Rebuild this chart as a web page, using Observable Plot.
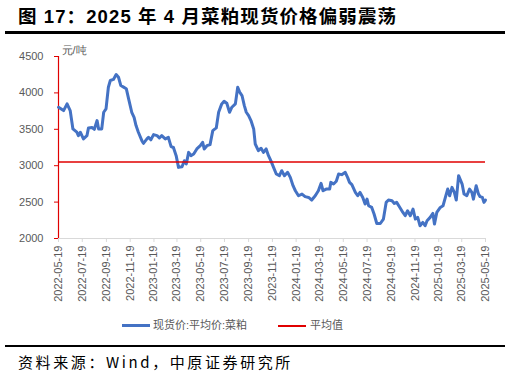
<!DOCTYPE html>
<html>
<head>
<meta charset="utf-8">
<script src="https://cdn.jsdelivr.net/npm/d3@7"></script>
<script src="https://cdn.jsdelivr.net/npm/@observablehq/plot@0.6"></script>
<style>
  html, body { margin: 0; padding: 0; background: #fff; }
  #wrap { position: relative; width: 511px; height: 378px; overflow: hidden; font-family: "Liberation Sans", Arial, "Noto Sans CJK SC", sans-serif; }
  #title { position: absolute; left: 18px; top: 2px; font-size: 18.5px; letter-spacing: 1.1px; font-weight: bold; color: #000; font-family: "Liberation Sans", Arial, "Noto Sans CJK SC", sans-serif; white-space: nowrap; }
  .rule { position: absolute; left: 5px; width: 500px; background: #000; }
  #chart { position: absolute; left: 0; top: 40px; }
  #legend { position: absolute; top: 317px; left: 0; width: 511px; font-size: 11px; color: #595959; white-space: nowrap; }
  .lg { position: absolute; top: 0; line-height: 16px; }
  .sw { position: absolute; }
  #caption { position: absolute; left: 18px; top: 351px; font-size: 15px; color: #000; white-space: nowrap; letter-spacing: 2.6px; font-family: "Noto Sans CJK SC", sans-serif; }
</style>
</head>
<body>
<div id="wrap">
  <div id="title">图 17：2025 年 4 月菜粕现货价格偏弱震荡</div>
  <div class="rule" style="top:31px;height:2.5px;"></div>
  <div id="chart"></div>
  <div id="legend">
    <div class="sw" style="left:122px;top:7px;width:28px;height:3px;background:#4472C4;"></div>
    <div class="lg" style="left:153px;">现货价:平均价:菜粕</div>
    <div class="sw" style="left:278px;top:8px;width:28px;height:1.5px;background:#e00000;"></div>
    <div class="lg" style="left:310px;">平均值</div>
  </div>
  <div class="rule" style="top:345px;height:2px;"></div>
  <div id="caption">资料来源：Wind，中原证券研究所</div>
</div>
<script>
// Days since 2022-05-19 and the spot price (元/吨)
const dayOffsets = [0,13,22,30,37,47,51,56,64,73,77,86,92,99,103,111,116,122,128,133,141,148,154,160,167,174,180,188,194,199,205,214,218,227,231,237,244,253,259,265,274,282,289,295,302,308,317,323,328,334,340,347,355,364,370,374,381,389,396,405,411,419,425,432,439,445,454,460,465,471,477,482,488,494,501,505,513,520,526,533,539,545,552,559,567,573,580,588,595,602,608,616,625,633,642,650,659,667,674,679,687,696,699,706,713,719,727,736,742,747,753,762,768,774,781,787,792,796,804,810,817,826,834,841,847,856,862,868,875,884,890,896,903,910,916,922,928,935,941,946,954,961,965,971,980,987,993,999,1004,1010,1016,1021,1027,1036,1041,1048,1055,1061,1065,1072,1078,1082,1088,1092,1096];
const prices = [3803,3757,3849,3757,3505,3460,3413,3460,3368,3413,3519,3525,3500,3620,3505,3505,3734,3780,4078,4170,4185,4252,4215,4101,4080,4058,3918,3734,3665,3551,3460,3344,3307,3368,3390,3355,3427,3413,3381,3413,3368,3390,3262,3250,3138,2977,2985,3069,3023,3183,3138,3160,3230,3275,3321,3230,3275,3290,3482,3519,3734,3849,3885,3858,3734,3803,3849,4078,4010,3964,3826,3734,3688,3620,3505,3298,3207,3240,3183,3230,3138,3069,2977,2886,2863,2931,2863,2909,2840,2725,2656,2587,2610,2575,2564,2528,2587,2656,2757,2656,2679,2679,2771,2748,2786,2886,2877,2909,2840,2771,2740,2633,2587,2633,2564,2473,2541,2450,2427,2336,2206,2206,2267,2496,2528,2518,2482,2496,2436,2358,2313,2381,2313,2404,2267,2290,2175,2221,2175,2244,2290,2344,2198,2358,2427,2450,2564,2679,2587,2702,2633,2528,2863,2748,2610,2587,2679,2633,2541,2725,2610,2575,2564,2496,2528];
const avgValue = 3050;
const yTicks = [2000, 2500, 3000, 3500, 4000, 4500];
const xTickLabels = ["2022-05-19","2022-07-19","2022-09-19","2022-11-19","2023-01-19","2023-03-19","2023-05-19","2023-07-19","2023-09-19","2023-11-19","2024-01-19","2024-03-19","2024-05-19","2024-07-19","2024-09-19","2024-11-19","2025-01-19","2025-03-19","2025-05-19"];
const seriesName = "现货价:平均价:菜粕";
const avgName = "平均值";
const unitLabel = "元/吨";

const base = new Date(Date.UTC(2022, 4, 19));
const data = dayOffsets.map((d, i) => ({ date: new Date(base.getTime() + d * 864e5), value: prices[i] }));
const xTicks = xTickLabels.map(s => new Date(s + "T00:00:00Z"));
const xDomain = [xTicks[0], xTicks[xTicks.length - 1]];

const chart = Plot.plot({
  width: 511,
  height: 270,
  marginTop: 16,
  marginBottom: 72,
  marginLeft: 58,
  marginRight: 26,
  style: { fontFamily: '"Liberation Sans", Arial, sans-serif', fontSize: "11px", background: "transparent", color: "#595959" },
  x: { type: "utc", domain: xDomain },
  y: { domain: [2000, 4500] },
  marks: [
    Plot.ruleY([2000], { stroke: "#d9d9d9", strokeWidth: 1 }),
    Plot.axisX({ ticks: xTicks, tickFormat: d3.utcFormat("%Y-%m-%d"), tickRotate: -90, tickSize: 4, tickPadding: 3, stroke: "#d9d9d9", fill: "#595959", label: null, fontSize: 11 }),
    Plot.axisY({ ticks: yTicks, tickFormat: d3.format("d"), tickSize: 4, tickPadding: 11, stroke: "#e00000", fill: "#595959", label: null, fontSize: 11 }),
    Plot.ruleX([xDomain[0]], { stroke: "#e00000", strokeWidth: 1.2 }),
    Plot.line(data, { x: "date", y: "value", stroke: "#4472C4", strokeWidth: 3, curve: "linear" }),
    Plot.ruleY([avgValue], { stroke: "#e00000", strokeWidth: 1.6 }),
    Plot.text([unitLabel], { frameAnchor: "top-left", dx: 3, dy: -10, fill: "#595959", fontSize: 11, textAnchor: "start" })
  ]
});
document.getElementById("chart").appendChild(chart);
</script>
</body>
</html>
